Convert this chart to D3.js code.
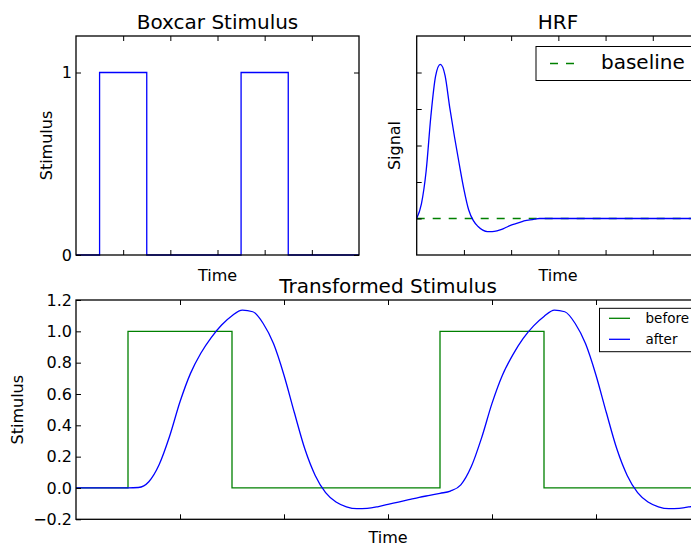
<!DOCTYPE html>
<html>
<head>
<meta charset="utf-8">
<script src="https://cdn.jsdelivr.net/npm/d3@7"></script>
<style>
  body { margin: 0; background: #fff; }
  svg { display: block; font-family: "DejaVu Sans", sans-serif; }
</style>
</head>
<body>
<div id="chart"></div>
<script>
// boxcar stimulus (step values, held until next time)
const boxTime = [0, 5, 15, 35, 45, 60];
const boxValue = [0, 1, 0, 1, 0, 0];

// haemodynamic response function
const hrfTime = [0, 1, 2, 3, 4, 5, 6, 7, 8, 9, 10, 11, 12, 13, 14, 15, 16, 17, 18, 19, 20,
  21, 22, 23, 24, 25, 26, 27, 28, 29, 30, 40, 50, 60];
const hrfValue = [0, 0.02, 0.065, 0.14, 0.195, 0.211, 0.196, 0.152, 0.112, 0.075, 0.04,
  0.012, -0.003, -0.011, -0.016, -0.018, -0.018, -0.017, -0.015, -0.012, -0.009,
  -0.007, -0.005, -0.003, -0.002, -0.001, 0, 0, 0, 0, 0, 0, 0, 0];

// convolved stimulus
const afterTime = [0, 1, 2, 3, 4, 5, 6, 7, 8, 9, 10, 11, 12, 13, 14, 15, 16, 17, 18, 19, 20,
  21, 22, 23, 24, 25, 26, 27, 28, 29, 30, 31, 32, 33, 34, 35, 36, 37, 38, 39, 40,
  41, 42, 43, 44, 45, 46, 47, 48, 49, 50, 51, 52, 53, 54, 55, 56, 57, 58, 59, 60];
const afterValue = [0, 0, 0, 0, 0, 0, 0.003, 0.04, 0.15, 0.33, 0.55,
  0.73, 0.86, 0.96, 1.04, 1.10, 1.135, 1.125, 1.05, 0.92, 0.72,
  0.48, 0.25, 0.08, -0.03, -0.09, -0.12, -0.132, -0.13, -0.12, -0.105,
  -0.09, -0.075, -0.06, -0.047, -0.034, -0.02, 0.02, 0.135, 0.32, 0.54,
  0.72, 0.85, 0.955, 1.035, 1.095, 1.135, 1.125, 1.05, 0.92, 0.72,
  0.48, 0.25, 0.08, -0.03, -0.09, -0.12, -0.132, -0.13, -0.12, -0.105];

const timeTicks = [10, 20, 30, 40, 50];
const bottomYTicks = [-0.2, 0, 0.2, 0.4, 0.6, 0.8, 1.0, 1.2];
const hrfYTicks = [0, 0.05, 0.1, 0.15, 0.2];

const width = 691;
const height = 546;
const blue = "#0000ff";
const green = "#008000";

const svg = d3.select("#chart")
  .append("svg")
  .attr("width", width)
  .attr("height", height);

function zipped(xs, ys) {
  return xs.map((x, i) => [x, ys[i]]);
}

function drawFrame(g, x, y, yTicks, yLabels) {
  const [x0, x1] = x.range();
  const [y0, y1] = y.range();
  const fmt = (d) => (d < 0 ? "\u2212" + Math.abs(d).toFixed(yLabels) : d.toFixed(yLabels));

  const axes = [
    [d3.axisBottom(x), `translate(0, ${y0})`, timeTicks, false],
    [d3.axisTop(x), `translate(0, ${y1})`, timeTicks, false],
    [d3.axisLeft(y), `translate(${x0}, 0)`, yTicks, yLabels !== null],
    [d3.axisRight(y), `translate(${x1}, 0)`, yTicks, false],
  ];
  axes.forEach(([ax, tr, ticks, labelled]) => {
    const a = g.append("g")
      .attr("transform", tr)
      .call(ax.tickValues(ticks)
        .tickSizeInner(-5)
        .tickSizeOuter(0)
        .tickPadding(4)
        .tickFormat(labelled ? fmt : ""));
    a.select(".domain").remove();
    a.selectAll("line").attr("stroke", "#000").attr("stroke-width", 1);
    a.selectAll("text").attr("fill", "#000").style("font-size", "16px")
      .style("font-family", "DejaVu Sans");
  });

  g.append("rect")
    .attr("x", x0)
    .attr("y", y1)
    .attr("width", x1 - x0)
    .attr("height", y0 - y1)
    .attr("fill", "none")
    .attr("stroke", "#000")
    .attr("stroke-width", 1.3);
}

function addText(g, txt, x, y, size, rotate) {
  const t = g.append("text")
    .attr("text-anchor", "middle")
    .style("font-size", size + "px")
    .text(txt);
  if (rotate) {
    t.attr("transform", "rotate(-90)").attr("x", -y).attr("y", x);
  } else {
    t.attr("x", x).attr("y", y);
  }
}

// --- Boxcar Stimulus ---
{
  const g = svg.append("g");
  const x = d3.scaleLinear().domain([0, 60]).range([76, 359]);
  const y = d3.scaleLinear().domain([0, 1.2]).range([255, 36]);

  g.append("path")
    .datum(zipped(boxTime, boxValue))
    .attr("fill", "none")
    .attr("stroke", blue)
    .attr("stroke-width", 1.3)
    .attr("d", d3.line().x((d) => x(d[0])).y((d) => y(d[1])).curve(d3.curveStepAfter));

  drawFrame(g, x, y, [0, 1], 0);
  addText(g, "Boxcar Stimulus", 217.5, 29, 20);
  addText(g, "Time", 217.5, 281, 16);
  addText(g, "Stimulus", 52, 145.5, 16, true);
}

// --- HRF ---
{
  const g = svg.append("g");
  const x = d3.scaleLinear().domain([0, 60]).range([416.7, 700]);
  const y = d3.scaleLinear().domain([-0.05, 0.25]).range([255, 36]);

  g.append("line")
    .attr("x1", x(0)).attr("x2", x(60))
    .attr("y1", y(0)).attr("y2", y(0))
    .attr("stroke", green)
    .attr("stroke-width", 1.3)
    .attr("stroke-dasharray", "8,8");

  g.append("path")
    .datum(zipped(hrfTime, hrfValue))
    .attr("fill", "none")
    .attr("stroke", blue)
    .attr("stroke-width", 1.3)
    .attr("d", d3.line().x((d) => x(d[0])).y((d) => y(d[1])).curve(d3.curveMonotoneX));

  drawFrame(g, x, y, hrfYTicks, null);
  addText(g, "HRF", 558, 29, 20);
  addText(g, "Time", 558, 281, 16);
  addText(g, "Signal", 400, 145.5, 16, true);

  const lg = g.append("g").attr("transform", "translate(536, 46.5)");
  lg.append("rect")
    .attr("width", 158).attr("height", 34)
    .attr("fill", "#fff").attr("stroke", "#000").attr("stroke-width", 1);
  lg.append("line")
    .attr("x1", 14).attr("x2", 40).attr("y1", 17).attr("y2", 17)
    .attr("stroke", green).attr("stroke-width", 1.3)
    .attr("stroke-dasharray", "8,8");
  lg.append("text")
    .attr("x", 65).attr("y", 22)
    .style("font-size", "20px")
    .text("baseline");
}

// --- Transformed Stimulus ---
{
  const g = svg.append("g");
  const x = d3.scaleLinear().domain([0, 60]).range([76, 700]);
  const y = d3.scaleLinear().domain([-0.2, 1.2]).range([519.3, 300]);

  g.append("path")
    .datum(zipped(boxTime, boxValue))
    .attr("fill", "none")
    .attr("stroke", green)
    .attr("stroke-width", 1.3)
    .attr("d", d3.line().x((d) => x(d[0])).y((d) => y(d[1])).curve(d3.curveStepAfter));

  g.append("path")
    .datum(zipped(afterTime, afterValue))
    .attr("fill", "none")
    .attr("stroke", blue)
    .attr("stroke-width", 1.3)
    .attr("d", d3.line().x((d) => x(d[0])).y((d) => y(d[1])).curve(d3.curveMonotoneX));

  drawFrame(g, x, y, bottomYTicks, 1);
  addText(g, "Transformed Stimulus", 388, 293, 20);
  addText(g, "Time", 388, 542.5, 16);
  addText(g, "Stimulus", 23, 409.7, 16, true);

  const lg = g.append("g").attr("transform", "translate(599.5, 308.3)");
  lg.append("rect")
    .attr("width", 97).attr("height", 43.4)
    .attr("fill", "#fff").attr("stroke", "#000").attr("stroke-width", 1);
  [["before", green], ["after", blue]].forEach(([name, c], i) => {
    lg.append("line")
      .attr("x1", 9.5).attr("x2", 30.5)
      .attr("y1", 10 + i * 21).attr("y2", 10 + i * 21)
      .attr("stroke", c).attr("stroke-width", 1.3);
    lg.append("text")
      .attr("x", 46).attr("y", 15 + i * 21)
      .style("font-size", "13.5px")
      .text(name);
  });
}
</script>
</body>
</html>
